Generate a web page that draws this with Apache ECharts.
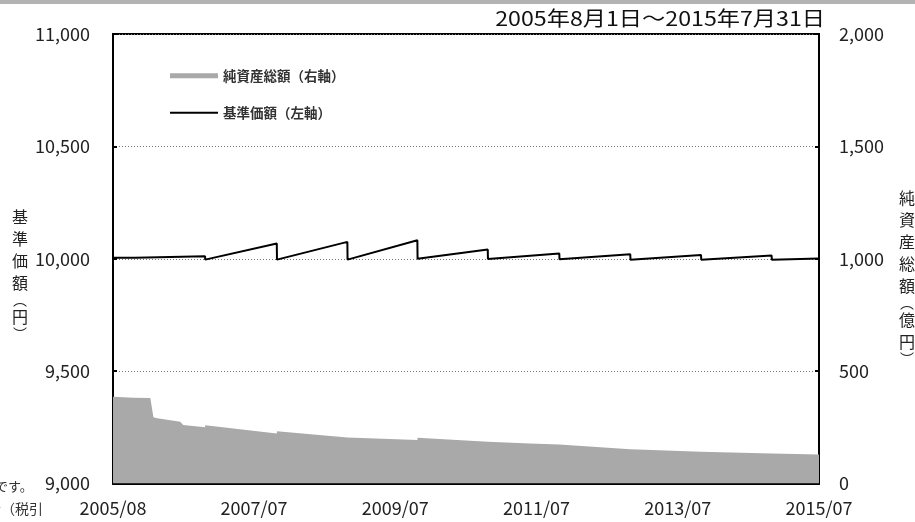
<!DOCTYPE html>
<html>
<head>
<meta charset="utf-8">
<script src="https://cdn.jsdelivr.net/npm/echarts@6/dist/echarts.min.js"></script>
<style>
html,body{margin:0;padding:0;background:#fff;}
#c{width:915px;height:522px;}
</style>
</head>
<body>
<div id="c"></div>
<script>
// ---- data ----
var titleText = '2005年8月1日～2015年7月31日';
var navName = '基準価額（左軸）';
var aumName = '純資産総額（右軸）';

var navDates = ['2005-08-01','2005-11-23','2005-11-24','2006-11-20','2006-11-21','2007-11-26','2007-11-27',
  '2008-11-25','2008-11-26','2009-11-22','2009-11-23','2010-11-21','2010-11-22','2011-11-26','2011-11-27',
  '2012-11-27','2012-11-28','2013-11-28','2013-11-29','2014-11-28','2014-11-29','2015-07-31'];
var navValues = [10005,10005,9998,10011,9996,10068,9996,
  10075,9996,10082,10000,10041,9999,10023,9998,
  10020,9996,10017,9996,10014,9996,10001];

var aumDates = ['2005-08-01','2005-11-14','2005-11-15','2006-02-10','2006-02-26','2006-03-18','2006-07-15',
  '2006-07-30','2006-11-20','2006-11-21','2007-11-26','2007-11-27','2008-11-25','2008-11-26','2009-11-22',
  '2009-11-23','2010-11-21','2010-11-22','2011-06-28','2011-11-26','2011-11-27','2012-11-27','2012-11-28',
  '2013-11-28','2013-11-29','2014-11-28','2014-11-29','2015-07-31'];
var aumValues = [386,382,385,380,295,290,275,
  260,250,259,223,233,205,211,193,
  204,186,190,178,174,179,152,159,
  141,144,134,139,129];

var xMin = '2005-08-01', xMax = '2015-07-31';
var xLabelDates = ['2005-08-01','2007-07-31','2009-07-31','2011-07-31','2013-07-31','2015-07-31'];
var leftAxisName = ['基','準','価','額','︵','円','︶'];
var rightAxisName = ['純','資','産','総','額','︵','億','円','︶'];
var noteLines = ['です。','金（税引'];

// ---- helpers ----
function ts(s){var p=s.split('-');return new Date(+p[0],+p[1]-1,+p[2]).getTime();}
function pairs(d,v){return d.map(function(x,i){return [ts(x),v[i]];});}
function fmtNum(v){return String(v).replace(/\B(?=(\d{3})+(?!\d))/g,',');}
function vertName(chars){
  return chars.map(function(c){return (c==='︵'||c==='︶')?'{p|'+c+'}':'{k|'+c+'}';}).join('\n');
}
var FONT = '"Noto Sans CJK JP", "Noto Sans", sans-serif';
var xLabelTs = xLabelDates.map(ts);

var chart = echarts.init(document.getElementById('c'));
chart.setOption({
  animation:false,
  backgroundColor:'#fff',
  textStyle:{fontFamily:FONT},
  grid:{left:113,right:96,top:34,bottom:38.5,show:true,borderColor:'#000',borderWidth:2,backgroundColor:'transparent'},
  legend:[
    {data:[{name:aumName,icon:'rect'}],left:165,top:64,itemWidth:48,itemHeight:5,
     textStyle:{fontFamily:FONT,fontSize:13.5,fontWeight:'bold',color:'#333'}},
    {data:[{name:navName,icon:'rect'}],left:165,top:101,itemWidth:48,itemHeight:2,
     textStyle:{fontFamily:FONT,fontSize:13.5,fontWeight:'bold',color:'#333'}}
  ],
  xAxis:{
    type:'value',min:ts(xMin),max:ts(xMax),
    axisLine:{show:true,lineStyle:{color:'#000',width:2}},
    axisTick:{show:true,inside:true,length:4,lineStyle:{color:'#000',width:2},customValues:xLabelTs.slice(1,-1)},
    axisLabel:{customValues:xLabelTs,margin:16,fontSize:18,color:'#222',fontFamily:FONT,
      formatter:function(v){var d=new Date(v);var m=d.getMonth()+1;return d.getFullYear()+'/'+(m<10?'0'+m:m);}},
    splitLine:{show:false}
  },
  yAxis:[
    {type:'value',min:9000,max:11000,interval:500,position:'left',
     axisLine:{show:true,lineStyle:{color:'#000',width:2}},
     axisTick:{show:true,inside:true,length:4,lineStyle:{color:'#000',width:2}},
     axisLabel:{margin:23,fontSize:18,color:'#222',fontFamily:FONT,formatter:fmtNum},
     splitLine:{show:true,lineStyle:{color:'#777',type:[1,2],width:1}}},
    {type:'value',min:0,max:2000,interval:500,position:'right',
     axisLine:{show:true,lineStyle:{color:'#000',width:2}},
     axisTick:{show:true,inside:true,length:4,lineStyle:{color:'#000',width:2}},
     axisLabel:{margin:20,fontSize:18,color:'#222',fontFamily:FONT,formatter:fmtNum},
     splitLine:{show:false}}
  ],
  series:[
    {name:aumName,type:'line',yAxisIndex:1,data:pairs(aumDates,aumValues),symbol:'none',
     color:'#a9a9a9',lineStyle:{width:0},areaStyle:{color:'#a9a9a9',opacity:1},z:1},
    {name:navName,type:'line',yAxisIndex:0,data:pairs(navDates,navValues),symbol:'none',
     color:'#000',lineStyle:{width:2,color:'#000'},z:3}
  ],
  graphic:[
    {type:'rect',left:0,top:0,shape:{width:915,height:4},style:{fill:'#b3b3b3'},silent:true},
    {type:'text',x:825,y:18,scaleX:1.16,style:{text:titleText,align:'right',verticalAlign:'middle',
      font:'20px '+FONT,fill:'#111'}},
    {type:'text',left:12,top:209,style:{text:vertName(leftAxisName),fill:'#222',
      rich:{k:{fontFamily:FONT,fontSize:16,lineHeight:22,fill:'#222',align:'center'},
            p:{fontFamily:FONT,fontSize:14,lineHeight:12,fill:'#222',align:'center'}}}},
    {type:'text',left:899,top:190,style:{text:vertName(rightAxisName),fill:'#222',
      rich:{k:{fontFamily:FONT,fontSize:16,lineHeight:22,fill:'#222',align:'center'},
            p:{fontFamily:FONT,fontSize:14,lineHeight:12,fill:'#222',align:'center'}}}},
    {type:'text',left:-5,top:480,style:{text:noteLines[0],font:'13px '+FONT,fill:'#333'}},
    {type:'text',left:-13,top:502,style:{text:noteLines[1],font:'14px '+FONT,fill:'#333'}}
  ]
});
</script>
</body>
</html>
